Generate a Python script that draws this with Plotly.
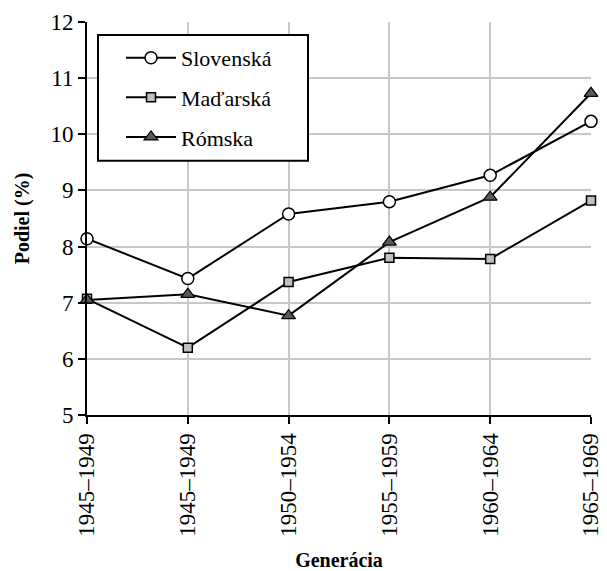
import plotly.graph_objects as go

generations = ["1945–1949", "1945–1949", "1950–1954", "1955–1959", "1960–1964", "1965–1969"]
x_pos = [0, 1, 2, 3, 4, 5]
slovenska = [8.14, 7.43, 8.58, 8.80, 9.27, 10.23]
madarska = [7.07, 6.20, 7.37, 7.80, 7.78, 8.82]
romska = [7.05, 7.15, 6.77, 8.08, 8.88, 10.73]
y_ticks = [5, 6, 7, 8, 9, 10, 11, 12]

FONT = "Liberation Serif"

fig = go.Figure()
fig.add_trace(go.Scatter(
    x=x_pos, y=slovenska, name="Slovenská", mode="lines+markers", legendgroup="a",
    line=dict(color="black", width=2),
    marker=dict(symbol="circle", size=12, color="white", line=dict(color="black", width=1.5)),
    cliponaxis=False))
fig.add_trace(go.Scatter(
    x=x_pos, y=madarska, name="Maďarská", mode="lines+markers", legendgroup="b",
    line=dict(color="black", width=2),
    marker=dict(symbol="square", size=9, color="#bfbfbf", line=dict(color="black", width=1.5)),
    cliponaxis=False))
fig.add_trace(go.Scatter(
    x=x_pos, y=romska, name="Rómska", mode="lines+markers", legendgroup="c",
    line=dict(color="black", width=2),
    marker=dict(symbol="triangle-up", size=12, color="#595959", line=dict(color="black", width=1.2)),
    cliponaxis=False))

# legend frame
fig.add_shape(type="rect", xref="paper", yref="paper",
              x0=0.0218, x1=0.4385, y0=0.647, y1=0.967,
              line=dict(color="black", width=2), fillcolor="white", layer="above")

fig.update_layout(
    width=599, height=563,
    margin=dict(l=79, r=16, t=14, b=156, autoexpand=False),
    paper_bgcolor="white", plot_bgcolor="white",
    font=dict(family=FONT, size=18, color="black"),
    showlegend=True,
    legend=dict(x=0.0675, y=0.962, xanchor="left", yanchor="top",
                bgcolor="rgba(0,0,0,0)", borderwidth=0,
                font=dict(family=FONT, size=22), itemwidth=50,
                traceorder="grouped", tracegroupgap=8),
    xaxis=dict(
        range=[0, 5], tickmode="array", tickvals=x_pos, ticktext=generations,
        tickangle=-90, showgrid=True, gridcolor="#c8c8c8", gridwidth=1.5,
        showline=True, linecolor="black", linewidth=2,
        ticks="outside", ticklen=7, tickwidth=2, tickcolor="black",
        zeroline=False, ticklabeloverflow="allow",
        tickfont=dict(family=FONT, size=23),
        title=dict(text="<b>Generácia</b>", font=dict(family=FONT, size=20), standoff=22),
    ),
    yaxis=dict(
        range=[5, 12], tickmode="array", tickvals=y_ticks,
        showgrid=True, gridcolor="#c8c8c8", gridwidth=1.5,
        showline=True, linecolor="black", linewidth=2,
        ticks="outside", ticklen=7, tickwidth=2, tickcolor="black",
        zeroline=False,
        tickfont=dict(family=FONT, size=23),
        title=dict(text="<b>Podiel (%)</b>", font=dict(family=FONT, size=20), standoff=15),
    ),
)

fig.write_html("out.html")
